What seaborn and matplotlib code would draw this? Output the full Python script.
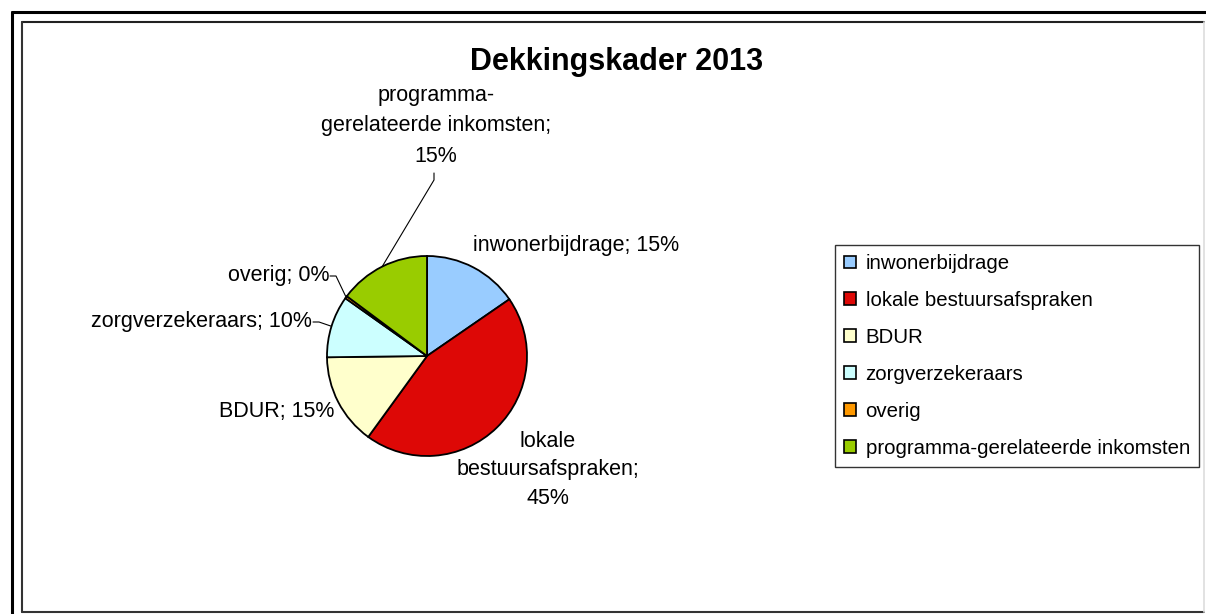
import numpy as np
import matplotlib
matplotlib.use('Agg')
import matplotlib.pyplot as plt
from matplotlib.lines import Line2D
import seaborn as sns

# data
categories = ["inwonerbijdrage", "lokale bestuursafspraken", "BDUR",
              "zorgverzekeraars", "overig", "programma-gerelateerde inkomsten"]
pie_labels = ["inwonerbijdrage", "lokale\nbestuursafspraken", "BDUR",
              "zorgverzekeraars", "overig", "programma-\ngerelateerde inkomsten"]
shares = [15.4, 44.6, 14.8, 10.0, 0.4, 14.8]
colors = ["#99CCFF", "#DD0806", "#FFFFCC", "#CCFFFF", "#FF9900", "#99CC00"]
title = "Dekkingskader 2013"

sns.set_style("white")
plt.rcParams['font.family'] = ['Liberation Sans', 'DejaVu Sans']
plt.rcParams['text.color'] = 'black'

W, H = 1206, 614
fig = plt.figure(figsize=(W / 100, H / 100), dpi=100)
fig.patch.set_facecolor('white')

# axes in pixel units (y measured from bottom)
ax = fig.add_axes([0, 0, 1, 1])
palette = sns.color_palette(colors)
cx, cy, r = 427, H - 356, 100
wedges, _ = ax.pie(shares, colors=palette, startangle=90, counterclock=False,
                   center=(cx, cy), radius=r,
                   wedgeprops=dict(edgecolor='black', linewidth=1.3))
ax.set_xlim(0, W)
ax.set_ylim(0, H)
ax.set_aspect('auto')
ax.axis('off')

total = sum(shares)
pct = [f"{round(v / total * 100):.0f}%" for v in shares]


def edge_point(w):
    mid = np.deg2rad((w.theta1 + w.theta2) / 2)
    return cx + r * np.cos(mid), cy + r * np.sin(mid)


fs = 15.5
# label layout: (x, y in px from top, ha, leader kind)
layout = [
    (473, 245, 'left', None),
    (548, 470, 'center', None),
    (334, 412, 'right', None),
    (312, 322, 'right', 'h'),
    (329, 276, 'right', 'h'),
    (436, 126, 'center', 'v'),
]
for i, (x, y, ha, lead) in enumerate(layout):
    txt = f"{pie_labels[i]}; {pct[i]}"
    if "\n" in pie_labels[i]:
        txt = f"{pie_labels[i]};\n{pct[i]}"
    ls = 1.6 if i == 5 else 1.45
    ax.text(x, H - y, txt, ha=ha, va='center', fontsize=fs, color='black',
            multialignment='center', linespacing=ls)
    if lead == 'h':
        ex, ey = edge_point(wedges[i])
        ax.plot([x + 1, x + 7, ex], [H - y, H - y, ey], color='black', lw=0.8)
    elif lead == 'v':
        ex, ey = edge_point(wedges[i])
        ax.plot([x - 2, x - 2, ex], [H - 173, H - 180, ey], color='black', lw=0.8)

fig.text(617 / W, 1 - 62 / H, title, ha='center', va='center',
         fontsize=22, fontweight='bold', color='black')

leg = fig.legend(wedges, categories, loc='upper left',
                 bbox_to_anchor=(835 / W, 1 - 245 / H), borderaxespad=0,
                 fontsize=14.7, frameon=True, fancybox=False, edgecolor='black',
                 handlelength=0.6, handleheight=0.6, handletextpad=0.45,
                 labelspacing=0.88, borderpad=0.45)
leg.get_frame().set_linewidth(1.0)
for t in leg.get_texts():
    t.set_color('black')
for h in leg.legend_handles:
    h.set_linewidth(1.2)


def px_line(xs, ys, color, lw):
    fig.add_artist(Line2D([x / W for x in xs], [1 - y / H for y in ys],
                          transform=fig.transFigure, color=color, lw=lw))


# outer frame (cut off at right and bottom)
px_line([12, W], [12, 12], 'black', 2.2)
px_line([12, 12], [12, H], 'black', 2.2)
# inner frame
px_line([22, 1204], [22, 22], '#222222', 1.5)
px_line([22, 22], [22, 612], '#333333', 1.5)
px_line([22, 1204], [612, 612], '#333333', 1.5)
px_line([1204, 1204], [22, 612], '#dddddd', 1.2)

fig.savefig('out.png', dpi=100)
